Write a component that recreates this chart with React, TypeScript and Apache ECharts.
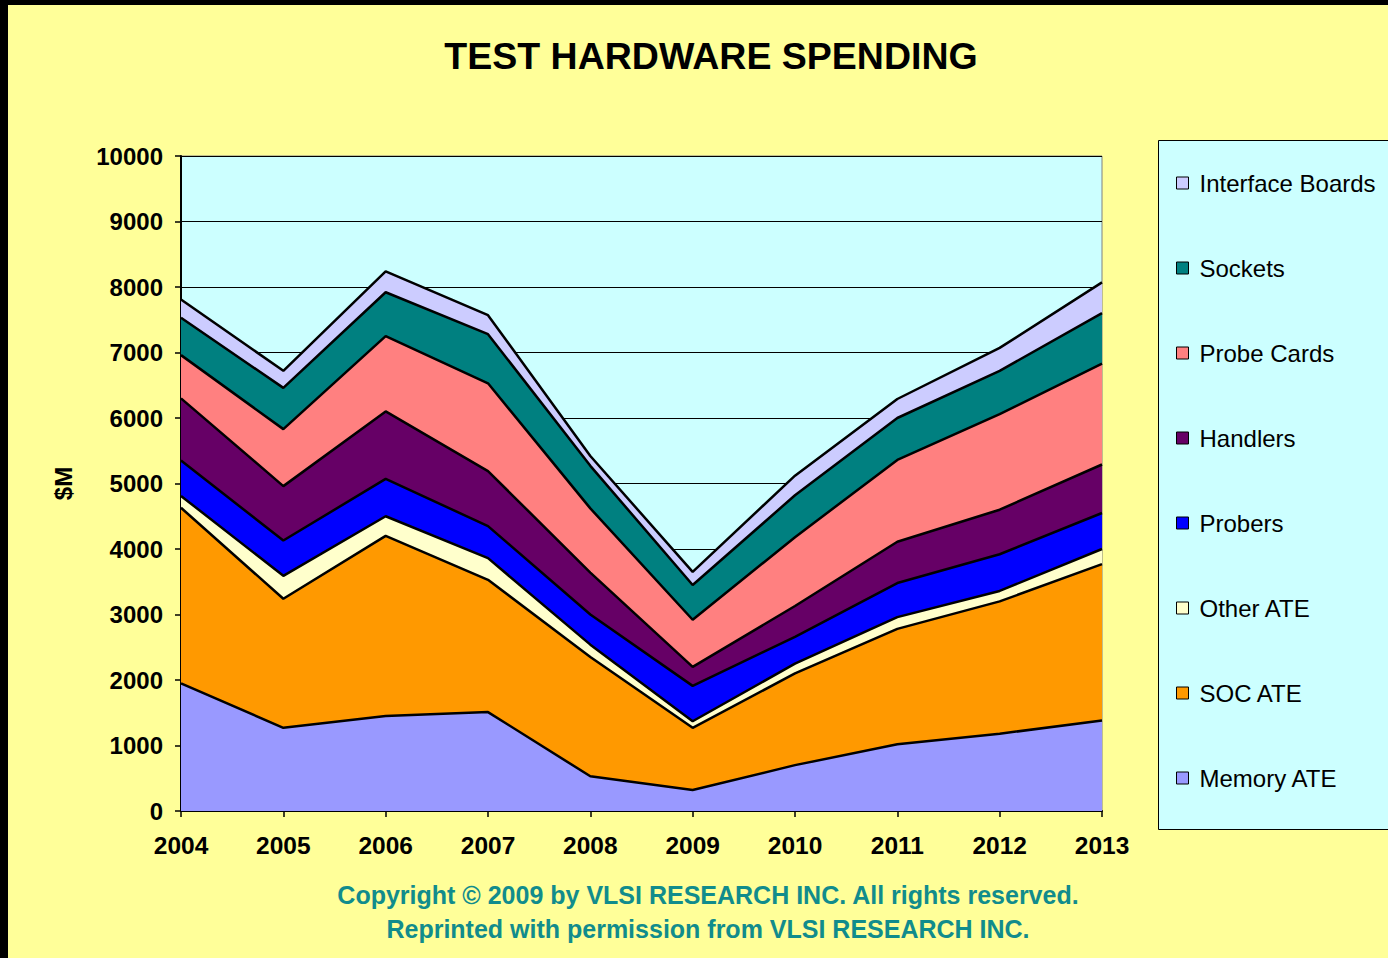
import React, { useEffect, useRef } from "react";
import * as echarts from "echarts";

const years = ["2004", "2005", "2006", "2007", "2008", "2009", "2010", "2011", "2012", "2013"];
const memoryATE = [1950, 1270, 1450, 1510, 530, 320, 700, 1020, 1180, 1380];
const socATE = [2680, 1970, 2750, 2020, 1820, 950, 1400, 1760, 2020, 2390];
const otherATE = [180, 350, 300, 330, 190, 100, 150, 180, 160, 230];
const probers = [540, 540, 570, 490, 460, 540, 410, 520, 560, 550];
const handlers = [950, 830, 1030, 840, 640, 290, 470, 630, 680, 740];
const probeCards = [660, 870, 1150, 1340, 980, 720, 1050, 1250, 1460, 1540];
const sockets = [570, 630, 670, 750, 650, 530, 640, 640, 660, 770];
const interfaceBoards = [280, 260, 320, 290, 150, 200, 300, 290, 350, 470];

const seriesDefs = [
  { name: "Memory ATE", data: memoryATE, color: "#9999FF" },
  { name: "SOC ATE", data: socATE, color: "#FF9900" },
  { name: "Other ATE", data: otherATE, color: "#FFFFCC" },
  { name: "Probers", data: probers, color: "#0000FF" },
  { name: "Handlers", data: handlers, color: "#660066" },
  { name: "Probe Cards", data: probeCards, color: "#FF8080" },
  { name: "Sockets", data: sockets, color: "#008080" },
  { name: "Interface Boards", data: interfaceBoards, color: "#CCCCFF" },
];

const FONT = "'Liberation Sans', Arial, sans-serif";

export default function App() {
  const ref = useRef<HTMLDivElement>(null);
  useEffect(() => {
    if (!ref.current) return;
    const chart = echarts.init(ref.current, null, { renderer: "svg" });
    const areaSeries = seriesDefs.map((s) => ({
      name: s.name,
      type: "line",
      stack: "area",
      data: s.data,
      symbol: "none",
      showSymbol: false,
      lineStyle: { width: 0, color: s.color },
      itemStyle: { color: s.color },
      areaStyle: { color: s.color, opacity: 1 },
      z: 2,
    }));
    const lineSeries = seriesDefs.map((s, i) => ({
      name: "_line" + i,
      type: "line",
      stack: "lines",
      data: s.data,
      symbol: "none",
      showSymbol: false,
      lineStyle: { width: 2.5, color: "#000" },
      itemStyle: { color: "#000" },
      z: 3,
      silent: true,
    }));
    chart.setOption({
      animation: false,
      backgroundColor: "#FFFF99",
      textStyle: { fontFamily: FONT },
      grid: {
        left: 173,
        top: 151,
        right: 286,
        bottom: 147,
        show: true,
        backgroundColor: "#CCFFFF",
        borderColor: "#808080",
        borderWidth: 1,
      },
      legend: {
        orient: "vertical",
        left: 1163,
        top: 161,
        icon: "rect",
        itemWidth: 12,
        itemHeight: 12,
        itemGap: 61,
        data: seriesDefs.map((s) => s.name).reverse(),
        itemStyle: { borderColor: "#000", borderWidth: 1 },
        textStyle: { fontSize: 24, color: "#000", fontFamily: FONT, lineHeight: 24, padding: [0, 0, 0, 6] },
        selectedMode: false,
      },
      xAxis: {
        type: "category",
        data: years,
        boundaryGap: false,
        axisLine: { lineStyle: { color: "#000", width: 2 } },
        axisTick: { show: true, length: 6, lineStyle: { color: "#000", width: 1.5 } },
        axisLabel: { fontSize: 24.5, fontWeight: "bold", color: "#000", margin: 22, fontFamily: FONT },
        splitLine: { show: false },
      },
      yAxis: {
        type: "value",
        min: 0,
        max: 10000,
        interval: 1000,
        name: "$M",
        nameLocation: "middle",
        nameGap: 106,
        nameRotate: 90,
        nameTextStyle: { fontSize: 24, fontWeight: "bold", color: "#000", fontFamily: FONT },
        axisLine: { show: true, lineStyle: { color: "#000", width: 2 } },
        axisTick: { show: true, length: 6, lineStyle: { color: "#000", width: 1.5 } },
        axisLabel: {
          fontSize: 24,
          fontWeight: "bold",
          color: "#000",
          margin: 18,
          fontFamily: FONT,
          formatter: (v: number) => String(v),
        },
        splitLine: { show: true, lineStyle: { color: "#000", width: 1 } },
      },
      graphic: [
        {
          type: "rect",
          left: 1150,
          top: 135,
          shape: { width: 300, height: 689 },
          style: { fill: "#CCFFFF", stroke: "#000", lineWidth: 1 },
          z: 0,
        },
        {
          type: "text",
          x: 703,
          y: 51,
          style: {
            text: "TEST HARDWARE SPENDING",
            font: "bold 37.5px " + FONT,
            fill: "#000",
            textAlign: "center",
            textVerticalAlign: "middle",
          },
        },
        {
          type: "text",
          x: 700,
          y: 890,
          style: {
            text: "Copyright \u00A9 2009 by VLSI RESEARCH INC. All rights reserved.",
            font: "bold 25px " + FONT,
            fill: "#118C8C",
            textAlign: "center",
            textVerticalAlign: "middle",
          },
        },
        {
          type: "text",
          x: 700,
          y: 924,
          style: {
            text: "Reprinted with permission from VLSI RESEARCH INC.",
            font: "bold 25px " + FONT,
            fill: "#118C8C",
            textAlign: "center",
            textVerticalAlign: "middle",
          },
        },
      ],
      series: [...areaSeries, ...lineSeries],
    });
    return () => chart.dispose();
  }, []);
  return (
    <div style={{ position: "fixed", left: 0, top: 0, width: 1388, height: 958, background: "#000", overflow: "hidden" }}>
      <div ref={ref} style={{ position: "absolute", left: 8, top: 5, width: 1380, height: 953 }} />
    </div>
  );
}
